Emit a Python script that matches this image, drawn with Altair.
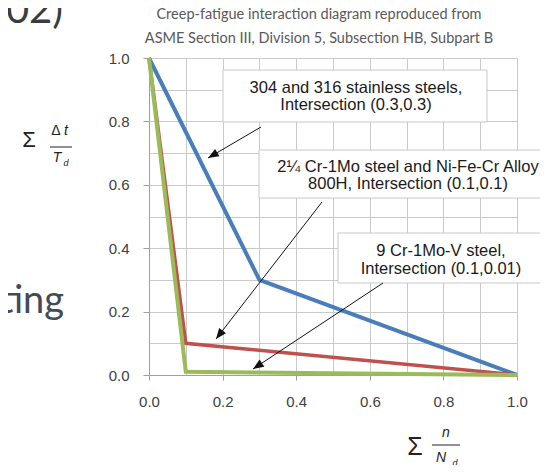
import math
import altair as alt
import pandas as pd

# ---------------- data ----------------
series = ["304 and 316 stainless steels",
          "2¼Cr-1Mo steel and Ni-Fe-Cr Alloy 800H",
          "9Cr-1Mo-V steel"]
fatigue_x = [[0.0, 0.3, 1.0], [0.0, 0.1, 1.0], [0.0, 0.1, 1.0]]
creep_y = [[1.0, 0.3, 0.0], [1.0, 0.1, 0.0], [1.0, 0.01, 0.0]]
tick_values = [0.0, 0.1, 0.2, 0.3, 0.4, 0.5, 0.6, 0.7, 0.8, 0.9, 1.0]

box_texts = [["304 and 316 stainless steels,", "Intersection (0.3,0.3)"],
             ["2¼ Cr-1Mo steel and Ni-Fe-Cr Alloy", "800H, Intersection (0.1,0.1)"],
             ["9 Cr-1Mo-V steel,", "Intersection (0.1,0.01)"]]

title_lines = ["Creep-fatigue interaction diagram reproduced from",
               "ASME Section III, Division 5, Subsection HB, Subpart B"]

# ---------------- layout / style ----------------
W, H = 368, 317
OX, OY = 149, 58  # plot origin on the page
colors = ["#4a7ebb", "#c0504d", "#9bbb59"]
widths = [4, 3.5, 4]


def dx(px):
    return (px - OX) / W


def dy(py):
    return (OY + H - py) / H


# annotation boxes (left, right, top, bottom) in page pixels -> data units
box_px = [(223, 487, 70, 122), (259, 560, 150, 198), (338, 543, 233, 283)]
box_pos = [(dx(a), dx(b), dy(c), dy(d)) for a, b, c, d in box_px]
# text line centres (x, y_line1, y_line2) in page pixels
box_text_px = [(356, 88, 105), (408, 167, 184), (441, 251, 269)]
# arrows (start x, start y, end x, end y) in page pixels
arrow_px = [(261, 127, 208, 158), (322, 202, 216, 339), (383, 283, 253, 369)]
arrow_pos = [(dx(a), dy(b), dx(c), dy(d)) for a, b, c, d in arrow_px]

ANN_FONT = "'Liberation Sans', Arial, sans-serif"
LAB_FONT = "'Liberation Sans', Arial, sans-serif"
SLIDE_FONT = "Lato, 'Open Sans', sans-serif"

xscale = alt.Scale(domain=[0, 1], nice=False, zero=False)
yscale = alt.Scale(domain=[0, 1], nice=False, zero=False)

even = "round(datum.value*10) % 2 == 0"


def make_axis(tick_size, pad):
    return alt.Axis(values=tick_values, grid=True, gridColor="#cacaca", gridWidth=1,
                    domainColor="#a0a0a0", tickColor="#a0a0a0", tickSize=tick_size,
                    tickOpacity={"condition": {"test": even, "value": 1}, "value": 0},
                    labelExpr=even + " ? format(datum.value, '.1f') : ''",
                    labelFont=LAB_FONT, labelFontSize=15, labelColor="#404040",
                    labelPadding=pad, labelFlush=False, labelOverlap=False, title=None)


xaxis = make_axis(5, 14)
yaxis = make_axis(6, 14)

X = lambda f: alt.X(f, scale=xscale, axis=xaxis)
Y = lambda f: alt.Y(f, scale=yscale, axis=yaxis)

layers = []
for i in range(3):
    df = pd.DataFrame({"x": fatigue_x[i], "y": creep_y[i], "o": list(range(len(fatigue_x[i]))),
                       "s": series[i]})
    layers.append(alt.Chart(df).mark_line(color=colors[i], strokeWidth=widths[i]).encode(
        x=X("x:Q"), y=Y("y:Q"), order="o:Q"))

# boxes
bdf = pd.DataFrame({"x1": [b[0] for b in box_pos], "x2": [b[1] for b in box_pos],
                    "y1": [b[2] for b in box_pos], "y2": [b[3] for b in box_pos]})
layers.append(alt.Chart(bdf).mark_rect(fill="white", stroke="#c8c8c8", strokeWidth=1).encode(
    x=X("x1:Q"), x2="x2:Q", y=Y("y1:Q"), y2="y2:Q"))

# arrows
adf = pd.DataFrame({"x1": [a[0] for a in arrow_pos], "y1": [a[1] for a in arrow_pos],
                    "x2": [a[2] for a in arrow_pos], "y2": [a[3] for a in arrow_pos]})
adf["ang"] = [(math.degrees(math.atan2((a[2] - a[0]) * W, (a[3] - a[1]) * H)) + 360) % 360
              for a in arrow_pos]
layers.append(alt.Chart(adf).mark_rule(color="#111111", strokeWidth=1).encode(
    x=X("x1:Q"), x2="x2:Q", y=Y("y1:Q"), y2="y2:Q"))
layers.append(alt.Chart(adf).mark_point(shape="M0,0L-0.4,1L0.4,1Z", filled=True, opacity=1,
                                        color="#111111", size=460).encode(
    x=X("x2:Q"), y=Y("y2:Q"), angle=alt.Angle("ang:Q", scale=None)))

# box texts, one line at a time
for i in range(3):
    cx, y1, y2 = box_text_px[i]
    tdf = pd.DataFrame({"t": box_texts[i], "x": [dx(cx), dx(cx)], "y": [dy(y1), dy(y2)]})
    layers.append(alt.Chart(tdf).mark_text(font=ANN_FONT, fontSize=16.5, color="#1a1a1a",
                                           align="center", baseline="middle").encode(
        x=X("x:Q"), y=Y("y:Q"), text="t:N"))


def deco(text, px, py, size, font=SLIDE_FONT, color="#404040",
         align="center", baseline="middle", style="normal", weight="normal"):
    return alt.Chart(alt.Data(values=[{"t": text}])).mark_text(
        font=font, fontSize=size, color=color, align=align, baseline=baseline,
        fontStyle=style, fontWeight=weight).encode(
        text="t:N", x=alt.value(px - OX), y=alt.value(py - OY))


def hline(x1, x2, py):
    return alt.Chart(alt.Data(values=[{"a": 1}])).mark_rule(color="#222222", strokeWidth=1).encode(
        x=alt.value(x1 - OX), x2=alt.value(x2 - OX), y=alt.value(py - OY))


# title
layers.append(deco(title_lines[0], 319, 19, 14.5, color="#595959", baseline="alphabetic"))
layers.append(deco(title_lines[1], 319, 43, 14.5, color="#595959", baseline="alphabetic"))
# slide fragments
layers.append(deco("02)", 63, 23, 40, color="#3c3c3c", align="right", baseline="alphabetic"))
layers.append(deco("ting", 64, 313, 38, color="#404b57", align="right", baseline="alphabetic"))

# y label: sum dt / Td
layers.append(deco("Σ", 29, 140, 22, font=LAB_FONT, color="#222222"))
layers.append(deco("Δ", 56, 131, 14, font=LAB_FONT, color="#222222"))
layers.append(deco("t", 66, 131, 14, font=LAB_FONT, color="#222222", style="italic"))
layers.append(deco("T", 57, 158, 14, font=LAB_FONT, color="#222222", style="italic"))
layers.append(deco("d", 66, 163, 9, font=LAB_FONT, color="#222222", style="italic"))
layers.append(hline(50, 72, 147))

# x label: sum n / Nd
layers.append(deco("Σ", 415, 447, 25, font=LAB_FONT, color="#222222"))
layers.append(deco("n", 446, 433, 14, font=LAB_FONT, color="#222222", style="italic"))
layers.append(deco("N", 441, 458, 14, font=LAB_FONT, color="#222222", style="italic"))
layers.append(deco("d", 455, 463, 9, font=LAB_FONT, color="#222222", style="italic"))
layers.append(hline(432, 460, 445))

chart = alt.layer(*layers).properties(
    width=W, height=H,
    autosize=alt.AutoSizeParams(type="none"),
    padding={"left": 141, "top": 50, "right": 23, "bottom": 90},
    background="white",
).configure_view(stroke=None)

chart.save("out.html", embed_options={"renderer": "svg", "actions": False})
